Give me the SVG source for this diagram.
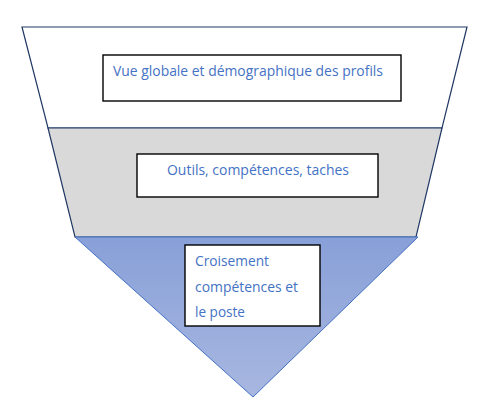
<svg xmlns="http://www.w3.org/2000/svg" width="503" height="401" viewBox="0 0 503 401">
<style>
.lvl{stroke:#1F3864;stroke-width:1.2}
.box{fill:#fff;stroke:#000;stroke-width:1.4}
.t{font-family:"Open Sans","Noto Sans","Liberation Sans",sans-serif;font-size:14px;fill:#4472C4}
</style>
<defs>
<linearGradient id="g" x1="0" y1="0" x2="0" y2="1">
<stop offset="0" stop-color="#88A0D8"/>
<stop offset="1" stop-color="#A8B7E0"/>
</linearGradient>
</defs>
<rect width="503" height="401" fill="#fff"/>
<g id="level1">
<polygon class="lvl" points="22,27 467,27 442,128 48,128" fill="#fff"/>
</g>
<g id="level2">
<polygon class="lvl" points="48,128 442,128 416,237 75,237" fill="#D9D9D9"/>
</g>
<g id="level3">
<polygon points="75,237 418,237 253,397" fill="url(#g)" stroke="#4472C4" stroke-width="1"/>
</g>
<g id="label1">
<rect class="box" x="103" y="55" width="298" height="46"/>
<text class="t" x="113" y="76" textLength="270" lengthAdjust="spacingAndGlyphs">Vue globale et démographique des profils</text>
</g>
<g id="label2">
<rect class="box" x="137" y="154" width="241" height="43"/>
<text class="t" x="167" y="175" textLength="182" lengthAdjust="spacingAndGlyphs">Outils, compétences, taches</text>
</g>
<g id="label3">
<rect class="box" x="185" y="245" width="135" height="81"/>
<text class="t" x="195" y="266" textLength="74" lengthAdjust="spacingAndGlyphs">Croisement</text>
<text class="t" x="195" y="292" textLength="103" lengthAdjust="spacingAndGlyphs">compétences et</text>
<text class="t" x="195" y="317" textLength="50" lengthAdjust="spacingAndGlyphs">le poste</text>
</g>
<g id="connectors"></g>
</svg>
